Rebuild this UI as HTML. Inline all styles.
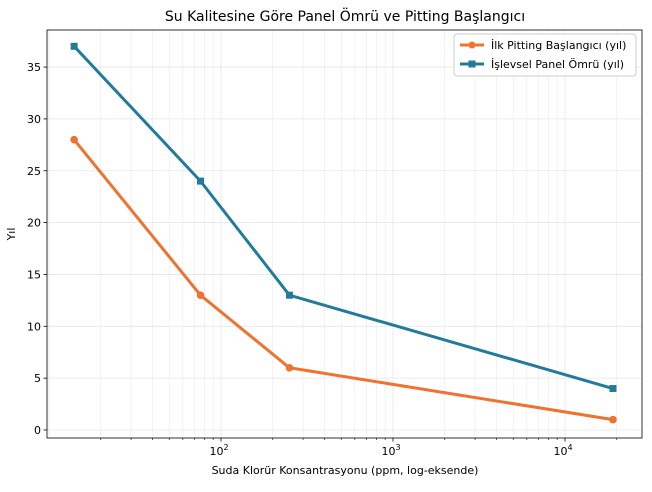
<!DOCTYPE html>
<html><head><meta charset="utf-8"><style>
body{margin:0;background:#fff;font-family:"Liberation Sans","DejaVu Sans",sans-serif;}
svg text{font-family:"DejaVu Sans","Liberation Sans",sans-serif;}
</style></head><body>
<svg id="chart" width="652" height="487" xmlns="http://www.w3.org/2000/svg">
<rect width="652" height="487" fill="#fff"/>
<text x="345" y="21" text-anchor="middle" font-size="14" fill="#000">Su Kalitesine Göre Panel Ömrü ve Pitting Başlangıcı</text>
<g id="grid"></g>
<g id="axes"></g>
<g id="series"></g>
<text x="345" y="474" text-anchor="middle" font-size="11">Suda Klorür Konsantrasyonu (ppm, log-eksende)</text>
<text x="15" y="234" text-anchor="middle" font-size="11" transform="rotate(-90 15 234)">Yıl</text>
<g>
<rect x="454" y="34" width="182" height="42" rx="3" fill="#fff" fill-opacity="0.85" stroke="#ccc"/>
<line x1="460" y1="45" x2="484" y2="45" stroke="#f07230" stroke-width="3"/><circle cx="472" cy="45" r="3.5" fill="#f07230"/>
<text x="491" y="49" font-size="11">İlk Pitting Başlangıcı (yıl)</text>
<line x1="460" y1="64" x2="484" y2="64" stroke="#237b9c" stroke-width="3"/><rect x="468.5" y="60.5" width="7" height="7" fill="#237b9c"/>
<text x="491" y="68" font-size="11">İşlevsel Panel Ömrü (yıl)</text>
</g>
</svg>
<script>
const chloride = [14, 76, 250, 19000];
const pittingYears = [28, 13, 6, 1];
const panelLifeYears = [37, 24, 13, 4];
const yTicks = [0, 5, 10, 15, 20, 25, 30, 35];
const xMajor = [100, 1000, 10000];

const L=47,R=642,T=30,B=438;
const xs=v=>221+(Math.log10(v)-2)*172;
const ys=v=>430-v*10.37;
const NS="http://www.w3.org/2000/svg";
function mk(tag,attrs,parent){const e=document.createElementNS(NS,tag);for(const k in attrs)e.setAttribute(k,attrs[k]);parent.appendChild(e);return e;}
const grid=document.getElementById('grid'),axes=document.getElementById('axes'),ser=document.getElementById('series');
// minor grid
for(let d=1;d<=4;d++)for(let m=1;m<10;m++){const v=m*Math.pow(10,d);const x=xs(v);if(x<L||x>R)continue;
const g=mk('line',{x1:x,x2:x,y1:T,y2:B,stroke:'#e6e6e6','stroke-width':m==1?0.8:0.5},grid);


if(m>1){const t=mk('line',{x1:x,x2:x,y1:B,y2:B+2,stroke:'#000','stroke-width':0.6},axes);

}}
yTicks.forEach(v=>{const y=ys(v);
const g=mk('line',{x1:L,x2:R,y1:y,y2:y,stroke:'#e6e6e6','stroke-width':0.8},grid);


mk('line',{x1:L-3.5,x2:L,y1:y,y2:y,stroke:'#000','stroke-width':0.8},axes);
const t=mk('text',{x:L-6,y:y+4,'text-anchor':'end','font-size':11},axes);t.textContent=v;

});
xMajor.forEach(v=>{const x=xs(v);
mk('line',{x1:x,x2:x,y1:B,y2:B+3.5,stroke:'#000','stroke-width':0.8},axes);
const t=mk('text',{x:x-2,y:B+17,'text-anchor':'middle','font-size':11},axes);
t.innerHTML='10<tspan dy="-5" font-size="8">'+Math.log10(v)+'</tspan>';

});
const fr=mk('rect',{x:L,y:T,width:R-L,height:B-T,fill:'none',stroke:'#000','stroke-width':0.8},axes);


function series(vals,color,shape,name){
const pts=chloride.map((c,i)=>xs(c)+','+ys(vals[i])).join(' ');
const pl=mk('polyline',{points:pts,fill:'none',stroke:color,'stroke-width':3,'stroke-linejoin':'round'},ser);


chloride.forEach((c,i)=>{let m;
if(shape=='circle')m=mk('circle',{cx:xs(c),cy:ys(vals[i]),r:3.8,fill:color},ser);
else m=mk('rect',{x:xs(c)-3.5,y:ys(vals[i])-3.5,width:7,height:7,fill:color},ser);

});}
series(pittingYears,'#f07230','circle','pitting');
series(panelLifeYears,'#237b9c','square','panel-life');
</script>
</body></html>
